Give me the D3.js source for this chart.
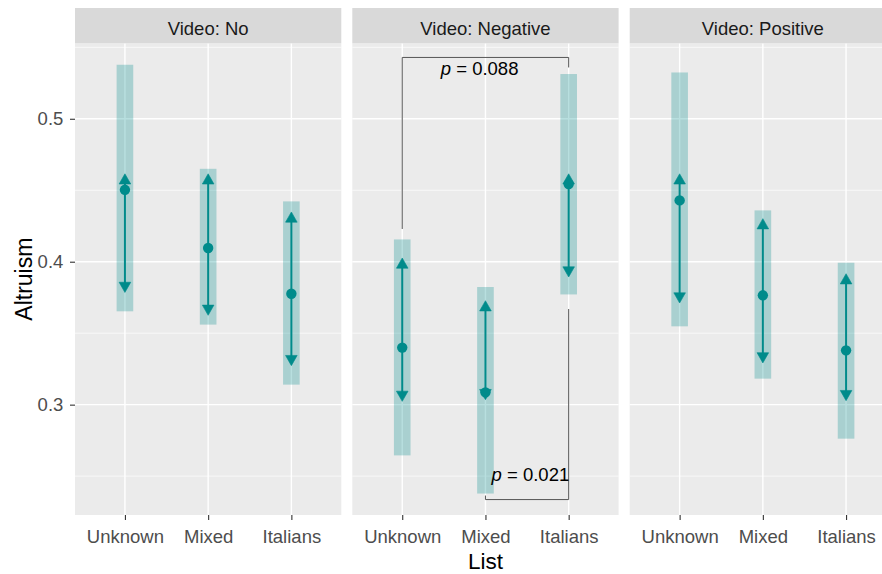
<!DOCTYPE html>
<html>
<head>
<meta charset="utf-8">
<script src="https://cdn.jsdelivr.net/npm/d3@7"></script>
<style>
  html, body { margin: 0; padding: 0; background: #ffffff; }
  svg { display: block; overflow: hidden; }
  text { font-family: "Liberation Sans", Arial, sans-serif; }
</style>
</head>
<body>
<script>
// ---- data -------------------------------------------------------------
const categories = ["Unknown", "Mixed", "Italians"];
const videos = ["No", "Negative", "Positive"];

// per video (rows) and list (columns)
const meanValues = [
  [0.4503, 0.4096, 0.3776],
  [0.3399, 0.3086, 0.4543],
  [0.4429, 0.3765, 0.3380]
];
const bandLow = [
  [0.3653, 0.3560, 0.3140],
  [0.2645, 0.2378, 0.3771],
  [0.3548, 0.3182, 0.2762]
];
const bandHigh = [
  [0.5378, 0.4650, 0.4422],
  [0.4156, 0.3823, 0.5313],
  [0.5324, 0.4359, 0.3993]
];
const arrowLow = [
  [0.3785, 0.3625, 0.3273],
  [0.3023, 0.3035, 0.3893],
  [0.3711, 0.3292, 0.3028]
];
const arrowHigh = [
  [0.4615, 0.4615, 0.4348],
  [0.4026, 0.3727, 0.4615],
  [0.4615, 0.4301, 0.3916]
];

// significance brackets (drawn in the "Negative" panel)
const bracketPanel = ["Negative", "Negative"];
const bracketFrom = ["Unknown", "Mixed"];
const bracketTo = ["Italians", "Italians"];
const bracketLevel = [0.5429, 0.2336];
const bracketFromEnd = [0.4229, 0.2364];
const bracketToEnd = [0.5359, 0.3669];
const bracketP = ["0.088", "0.021"];
const bracketLabelX = [1.93, 2.54];     // in list units (1 = Unknown)
const bracketLabelY = [0.5308, 0.2464];

const yTickLabels = ["0.3", "0.4", "0.5"];

// ---- layout -----------------------------------------------------------
const W = 882, H = 574;
const stripTop = 8, panelTop = 43.3, panelBottom = 515;
const panelLefts = [75, 352.3, 629.7];
const panelW = 266.3;
const teal = "#008B8B";

const svg = d3.select("body").append("svg")
  .attr("width", W).attr("height", H);

// y scale: data range of the bands, expanded by 5% on each side
const allLow = d3.min(bandLow.flat()), allHigh = d3.max(bandHigh.flat());
const pad = (allHigh - allLow) * 0.05;
const y = d3.scaleLinear()
  .domain([allLow - pad, allHigh + pad])
  .range([panelBottom, panelTop]);

const majorTicks = yTickLabels.map(Number);
const minorTicks = d3.range(0.15, 0.65, 0.1)
  .map(v => +v.toFixed(2))
  .filter(v => v > y.domain()[0] && v < y.domain()[1]);

videos.forEach((video, vi) => {
  const left = panelLefts[vi];
  const x = d3.scalePoint().domain(categories)
    .range([left, left + panelW]).padding(0.6);
  const xu = d3.scaleLinear().domain([0.4, 3.6]).range([left, left + panelW]);
  const g = svg.append("g");

  // panel background
  g.append("rect")
    .attr("x", left).attr("y", panelTop)
    .attr("width", panelW).attr("height", panelBottom - panelTop)
    .attr("fill", "#EBEBEB");

  // grid
  g.selectAll(".minor").data(minorTicks).join("line")
    .attr("x1", left).attr("x2", left + panelW)
    .attr("y1", d => y(d)).attr("y2", d => y(d))
    .attr("stroke", "#fff").attr("stroke-width", 0.7);
  g.selectAll(".major").data(majorTicks).join("line")
    .attr("x1", left).attr("x2", left + panelW)
    .attr("y1", d => y(d)).attr("y2", d => y(d))
    .attr("stroke", "#fff").attr("stroke-width", 1.4);
  g.selectAll(".vgrid").data(categories).join("line")
    .attr("x1", d => x(d)).attr("x2", d => x(d))
    .attr("y1", panelTop).attr("y2", panelBottom)
    .attr("stroke", "#fff").attr("stroke-width", 1.4);

  // strip
  g.append("rect")
    .attr("x", left).attr("y", stripTop)
    .attr("width", panelW).attr("height", panelTop - stripTop)
    .attr("fill", "#D9D9D9");
  g.append("text")
    .attr("x", left + panelW / 2).attr("y", 35.3)
    .attr("text-anchor", "middle")
    .attr("font-size", 18.5).attr("fill", "#1A1A1A")
    .text("Video: " + video);

  const rows = categories.map((c, ci) => ({
    c,
    mean: meanValues[vi][ci],
    lo: bandLow[vi][ci], hi: bandHigh[vi][ci],
    aLo: arrowLow[vi][ci], aHi: arrowHigh[vi][ci]
  }));
  const bw = xu(1.1) - xu(0.9);

  // interval bands
  g.selectAll(".band").data(rows).join("rect")
    .attr("x", d => x(d.c) - bw / 2).attr("width", bw)
    .attr("y", d => y(d.hi)).attr("height", d => y(d.lo) - y(d.hi))
    .attr("fill", teal).attr("fill-opacity", 0.28);

  // double-headed arrows
  g.selectAll(".seg").data(rows).join("line")
    .attr("x1", d => x(d.c)).attr("x2", d => x(d.c))
    .attr("y1", d => y(d.aLo) - 4).attr("y2", d => y(d.aHi) + 4)
    .attr("stroke", teal).attr("stroke-width", 2);
  const hw = 5.8, hh = 10.2;
  g.selectAll(".up").data(rows).join("path")
    .attr("d", d => {
      const cx = x(d.c), ty = y(d.aHi);
      return `M${cx},${ty}L${cx - hw},${ty + hh}L${cx + hw},${ty + hh}Z`;
    })
    .attr("fill", teal).attr("stroke", teal).attr("stroke-width", 0.6)
    .attr("stroke-linejoin", "round");
  g.selectAll(".down").data(rows).join("path")
    .attr("d", d => {
      const cx = x(d.c), ty = y(d.aLo);
      return `M${cx},${ty}L${cx - hw},${ty - hh}L${cx + hw},${ty - hh}Z`;
    })
    .attr("fill", teal).attr("stroke", teal).attr("stroke-width", 0.6)
    .attr("stroke-linejoin", "round");

  // means
  g.selectAll(".pt").data(rows).join("circle")
    .attr("cx", d => x(d.c)).attr("cy", d => y(d.mean)).attr("r", 5.2)
    .attr("fill", teal);

  // x axis
  const ax = g.append("g")
    .attr("transform", `translate(0,${panelBottom})`)
    .call(d3.axisBottom(x).tickSize(5).tickPadding(10.2));
  ax.select(".domain").remove();
  ax.selectAll(".tick line").attr("stroke", "#333").attr("stroke-width", 1.1);
  ax.selectAll(".tick text")
    .attr("font-size", 18.5).attr("fill", "#4D4D4D")
    .attr("font-family", "'Liberation Sans', Arial, sans-serif");

  // significance brackets
  bracketPanel.forEach((p, bi) => {
    if (p !== video) return;
    const x1 = x(bracketFrom[bi]), x2 = x(bracketTo[bi]);
    const yl = y(bracketLevel[bi]);
    g.append("path")
      .attr("d", `M${x1},${y(bracketFromEnd[bi])}L${x1},${yl}L${x2},${yl}L${x2},${y(bracketToEnd[bi])}`)
      .attr("fill", "none").attr("stroke", "#555").attr("stroke-width", 1);
    const t = g.append("text")
      .attr("x", xu(bracketLabelX[bi])).attr("y", y(bracketLabelY[bi]))
      .attr("text-anchor", "middle").attr("font-size", 18.5).attr("fill", "#000");
    t.append("tspan").attr("font-style", "italic").text("p");
    t.append("tspan").text(" = " + bracketP[bi]);
  });
});

// y axis (first panel only)
const ay = svg.append("g")
  .attr("transform", `translate(${panelLefts[0]},0)`)
  .call(d3.axisLeft(y).tickValues(majorTicks)
    .tickFormat((d, i) => yTickLabels[i]).tickSize(5).tickPadding(6.7));
ay.select(".domain").remove();
ay.selectAll(".tick line").attr("stroke", "#333").attr("stroke-width", 1.1);
ay.selectAll(".tick text")
  .attr("font-size", 18.5).attr("fill", "#4D4D4D")
  .attr("font-family", "'Liberation Sans', Arial, sans-serif");

// axis titles
svg.append("text")
  .attr("x", (panelLefts[0] + panelLefts[2] + panelW) / 2).attr("y", 568.5)
  .attr("text-anchor", "middle").attr("font-size", 22.5).attr("fill", "#000")
  .text("List");
svg.append("text")
  .attr("transform", `translate(32,${(panelTop + panelBottom) / 2}) rotate(-90)`)
  .attr("text-anchor", "middle").attr("font-size", 23).attr("fill", "#000")
  .text("Altruism");
</script>
</body>
</html>
